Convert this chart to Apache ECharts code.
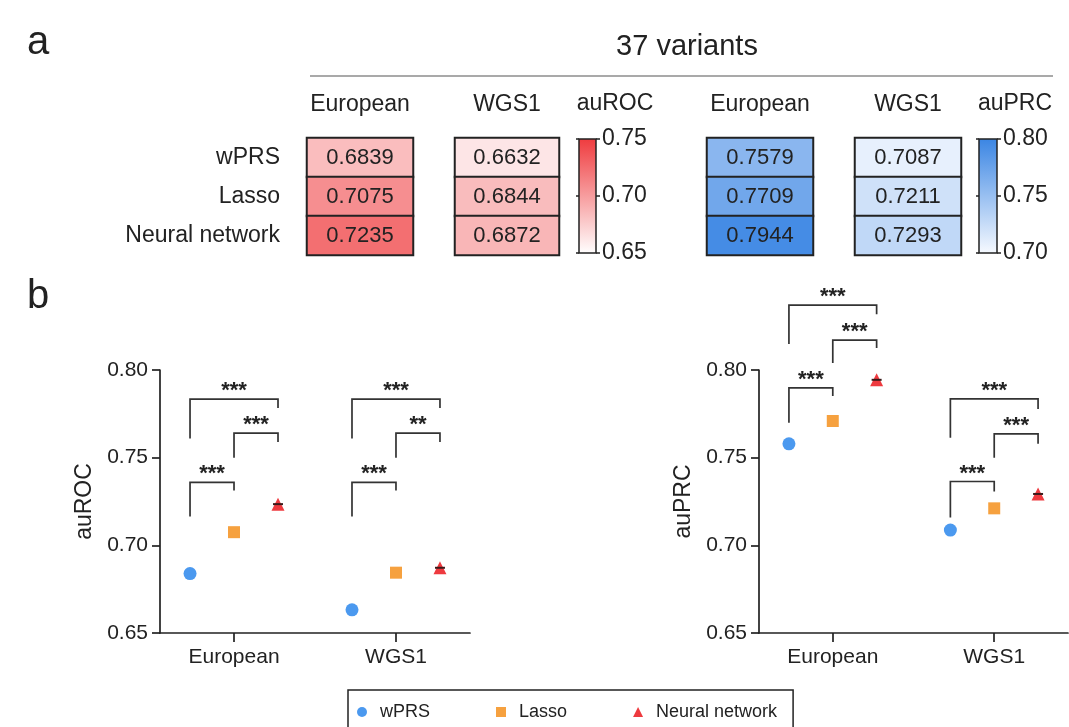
<!DOCTYPE html>
<html>
<head>
<meta charset="utf-8">
<script src="https://cdn.jsdelivr.net/npm/echarts@6/dist/echarts.min.js"></script>
<style>
  html, body { margin: 0; padding: 0; background: #ffffff; }
  #chart { width: 1069px; height: 727px; }
</style>
</head>
<body>
<div id="chart"></div>
<script>
// Cohorts and models
const groups = ['European', 'WGS1'];
const methods = ['wPRS', 'Lasso', 'Neural network'];

// Scores per model (order follows `methods`)
const aurocEuropean = [0.6839, 0.7075, 0.7235];
const aurocWGS1 = [0.6632, 0.6844, 0.6872];
const auprcEuropean = [0.7579, 0.7709, 0.7944];
const auprcWGS1 = [0.7087, 0.7211, 0.7293];

// Colour-scale ranges
const aurocRange = [0.65, 0.75];
const auprcRange = [0.70, 0.80];

// Significance brackets: [cohort, model A, model B, foot A, bar, foot B, stars]
const aurocBrackets = [
  [0, 0, 1, 0.7164, 0.7359, 0.7313, '***'],
  [0, 1, 2, 0.7500, 0.7640, 0.7590, '***'],
  [0, 0, 2, 0.7610, 0.7834, 0.7783, '***'],
  [1, 0, 1, 0.7164, 0.7359, 0.7313, '***'],
  [1, 1, 2, 0.7500, 0.7640, 0.7590, '**'],
  [1, 0, 2, 0.7610, 0.7834, 0.7783, '***']
];
const auprcBrackets = [
  [0, 0, 1, 0.7699, 0.7898, 0.7852, '***'],
  [0, 1, 2, 0.8040, 0.8170, 0.8125, '***'],
  [0, 0, 2, 0.8148, 0.8370, 0.8318, '***'],
  [1, 0, 1, 0.7159, 0.7364, 0.7307, '***'],
  [1, 1, 2, 0.7500, 0.7636, 0.7580, '***'],
  [1, 0, 2, 0.7614, 0.7835, 0.7778, '***']
];

const INK = '#222222';
const FONT = '"Liberation Sans", Arial, Helvetica, sans-serif';
const REDS = ['#ffffff', '#ef3b3e'];
const BLUES = ['#f7faff', '#3a85e3'];
const COLORS = ['#4b99ef', '#f6a13f', '#ee3a3f'];
const SYMBOLS = ['circle', 'rect', 'triangle'];
const SIZES = [13, 12, 13];
const DODGE = 0.2716;

const xPos = (g, m) => g + 1 + (m - 1) * DODGE;

const chart = echarts.init(document.getElementById('chart'), null, { renderer: 'canvas' });

// ---- heatmap panels (grids 0-3) ----
const heatGrids = [
  { left: 307, top: 138, width: 106, height: 117 },
  { left: 455, top: 138, width: 104, height: 117 },
  { left: 707, top: 138, width: 106, height: 117 },
  { left: 855, top: 138, width: 106, height: 117 }
];
const heatValues = [aurocEuropean, aurocWGS1, auprcEuropean, auprcWGS1];
const heatCols = [groups[0], groups[1], groups[0], groups[1]];

// ---- colour bars (grids 4-5) and dot plots (grids 6-7) ----
const grids = heatGrids.concat([
  { left: 579, top: 139, width: 17, height: 114 },
  { left: 979, top: 139, width: 18, height: 114 },
  { left: 160, top: 370, width: 310, height: 263 },
  { left: 759, top: 370, width: 309, height: 263 }
]);

const xAxes = [];
const yAxes = [];
heatGrids.forEach((g, i) => {
  xAxes.push({
    type: 'category', gridIndex: i, position: 'top', data: [heatCols[i]],
    axisLine: { show: false }, axisTick: { show: false },
    axisLabel: { fontSize: 23, color: INK, fontFamily: FONT, margin: 22 }
  });
  yAxes.push({
    type: 'category', gridIndex: i, data: methods, inverse: true,
    axisLine: { show: false }, axisTick: { show: false },
    axisLabel: { show: i === 0, fontSize: 23, color: INK, fontFamily: FONT, margin: 27 }
  });
});

// colour bar axes
[aurocRange, auprcRange].forEach((r, k) => {
  xAxes.push({ type: 'category', gridIndex: 4 + k, data: [''], show: false });
  yAxes.push({
    type: 'value', gridIndex: 4 + k, position: 'right', min: r[0], max: r[1], interval: 0.05,
    axisLine: { show: false },
    axisTick: { show: true, length: 4, lineStyle: { color: INK, width: 1.5 } },
    axisLabel: { fontSize: 23, color: INK, fontFamily: FONT, margin: 6, formatter: v => v.toFixed(2) },
    splitLine: { show: false }
  });
});

// dot plot axes
['auROC', 'auPRC'].forEach((name, k) => {
  xAxes.push({
    type: 'value', gridIndex: 6 + k, min: 0.543, max: 2.457,
    axisLine: { show: true, lineStyle: { color: INK, width: 1.7 } },
    axisTick: { show: true, customValues: [1, 2], length: 9, lineStyle: { color: INK, width: 1.7 } },
    axisLabel: {
      show: true, customValues: [1, 2], fontSize: 21, color: INK, fontFamily: FONT, margin: 14,
      formatter: v => groups[Math.round(v) - 1] || ''
    },
    splitLine: { show: false }
  });
  yAxes.push({
    type: 'value', gridIndex: 6 + k, min: 0.65, max: 0.80, interval: 0.05,
    name: name, nameLocation: 'middle', nameGap: 64,
    nameTextStyle: { fontSize: 23, color: INK, fontFamily: FONT },
    axisLine: { show: true, lineStyle: { color: INK, width: 1.7 } },
    axisTick: { show: true, length: 8, lineStyle: { color: INK, width: 1.7 } },
    axisLabel: { fontSize: 21, color: INK, fontFamily: FONT, margin: 12, formatter: v => v.toFixed(2) },
    splitLine: { show: false }
  });
});

// small tick marks on the left edge of each colour bar
[aurocRange, auprcRange].forEach((r, k) => {
  yAxes.push({
    type: 'value', gridIndex: 4 + k, position: 'left', min: r[0], max: r[1], interval: 0.05,
    axisLine: { show: false },
    axisTick: { show: true, length: 3, lineStyle: { color: INK, width: 1.5 } },
    axisLabel: { show: false }, splitLine: { show: false }
  });
});

const series = [];

// heatmaps
heatValues.forEach((vals, i) => {
  series.push({
    type: 'heatmap', xAxisIndex: i, yAxisIndex: i,
    data: vals.map((v, m) => [0, m, v]),
    itemStyle: { borderColor: INK, borderWidth: 2 },
    label: {
      show: true, fontSize: 22, color: INK, fontFamily: FONT,
      formatter: p => p.value[2].toFixed(4)
    },
    emphasis: { disabled: true }
  });
});

// colour bars
[[aurocRange, REDS, 4], [auprcRange, BLUES, 5]].forEach(([r, cols, gi]) => {
  series.push({
    type: 'custom', xAxisIndex: gi, yAxisIndex: gi, silent: true,
    data: [[0, r[0], r[1]]],
    renderItem: (params, api) => {
      const cs = params.coordSys;
      const top = api.coord([0, api.value(2)])[1];
      const bottom = api.coord([0, api.value(1)])[1];
      return {
        type: 'rect',
        shape: { x: cs.x, y: top, width: cs.width, height: bottom - top },
        style: {
          fill: new echarts.graphic.LinearGradient(0, 0, 0, 1, [
            { offset: 0, color: cols[1] }, { offset: 1, color: cols[0] }
          ]),
          stroke: INK, lineWidth: 1.5
        }
      };
    }
  });
});

// dot plots
[[aurocEuropean, aurocWGS1, aurocBrackets, 6], [auprcEuropean, auprcWGS1, auprcBrackets, 7]].forEach(([eu, wgs, brackets, idx]) => {
  const ax = { xAxisIndex: idx, yAxisIndex: idx };
  methods.forEach((m, mi) => {
    series.push(Object.assign({
      type: 'scatter', name: m,
      symbol: SYMBOLS[mi], symbolSize: SIZES[mi],
      itemStyle: { color: COLORS[mi], opacity: 1 },
      data: [eu, wgs].map((vals, g) => [xPos(g, mi), vals[mi]]),
      emphasis: { disabled: true }, z: 3
    }, ax));
  });
  // short mean marks drawn over the neural network triangles
  series.push(Object.assign({
    type: 'scatter', name: 'mean', symbol: 'rect', symbolSize: [10, 2],
    itemStyle: { color: '#3a1a1a', opacity: 1 },
    data: [eu, wgs].map((vals, g) => [xPos(g, 2), vals[2]]),
    emphasis: { disabled: true }, silent: true, z: 4
  }, ax));
  // significance brackets
  series.push(Object.assign({
    type: 'custom', silent: true, clip: false,
    data: brackets.map(b => [xPos(b[0], b[1]), xPos(b[0], b[2]), b[3], b[4], b[5]]),
    renderItem: (params, api) => {
      const b = brackets[params.dataIndex];
      const a = api.coord([api.value(0), api.value(2)]);
      const t1 = api.coord([api.value(0), api.value(3)]);
      const t2 = api.coord([api.value(1), api.value(3)]);
      const c = api.coord([api.value(1), api.value(4)]);
      return {
        type: 'group',
        children: [
          {
            type: 'polyline',
            shape: { points: [a, t1, t2, c] },
            style: { fill: null, stroke: '#333333', lineWidth: 1.7 }
          },
          {
            type: 'text',
            style: {
              x: (t1[0] + t2[0]) / 2, y: t1[1] - 8,
              text: b[6], fill: INK, fontSize: 22, fontWeight: 'bold', fontFamily: FONT,
              align: 'center', verticalAlign: 'middle'
            }
          }
        ]
      };
    }
  }, ax));
});

const mkTitle = (text, left, top, size, align) => ({
  text, left, top, padding: 0, textAlign: align || 'left',
  textStyle: { color: INK, fontWeight: 'normal', fontFamily: FONT, fontSize: size }
});

chart.setOption({
  animation: false,
  backgroundColor: '#ffffff',
  title: [
    mkTitle('a', 27, 23, 40),
    mkTitle('b', 27, 277, 40),
    mkTitle('37 variants', 687, 32, 29, 'center'),
    mkTitle('auROC', 615, 92, 23, 'center'),
    mkTitle('auPRC', 1015, 92, 23, 'center')
  ],
  graphic: [
    {
      type: 'line', silent: true,
      shape: { x1: 310, y1: 76, x2: 1053, y2: 76 },
      style: { stroke: '#555555', lineWidth: 1.2 }
    }
  ],
  legend: {
    data: methods, left: 348, top: 690, orient: 'horizontal',
    itemWidth: 10, itemHeight: 10, itemGap: 66,
    padding: [13, 16, 14, 9],
    borderColor: INK, borderWidth: 1.5,
    selectedMode: false,
    textStyle: { fontSize: 18, color: INK, fontFamily: FONT, padding: [0, 0, 0, 8] }
  },
  visualMap: [
    { type: 'continuous', show: false, min: aurocRange[0], max: aurocRange[1], seriesIndex: [0, 1], dimension: 2, inRange: { color: REDS } },
    { type: 'continuous', show: false, min: auprcRange[0], max: auprcRange[1], seriesIndex: [2, 3], dimension: 2, inRange: { color: BLUES } }
  ],
  grid: grids,
  xAxis: xAxes,
  yAxis: yAxes,
  series: series
});
</script>
</body>
</html>
